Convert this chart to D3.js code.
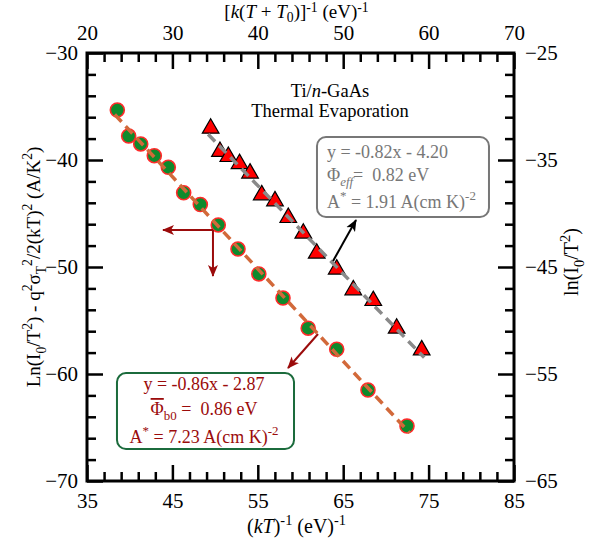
<!DOCTYPE html>
<html>
<head>
<meta charset="utf-8">
<script src="https://cdn.jsdelivr.net/npm/d3@7"></script>
<style>
  html, body { margin: 0; padding: 0; background: #fff; }
  svg text { font-family: "Liberation Serif", "DejaVu Serif", serif; white-space: pre; }
</style>
</head>
<body>
<div id="chart"></div>
<script>
'use strict';

// ── Data ────────────────────────────────────────────────────
// Green circles: (kT)^-1 on bottom axis, corrected ln on left axis
const circleX = [38.55, 39.88, 41.29, 42.88, 44.52, 46.32, 48.27, 50.37, 52.68, 55.12, 57.95, 60.90, 64.24, 67.90, 72.47];
const circleY = [-35.33, -37.76, -38.50, -39.60, -40.68, -43.06, -44.16, -46.07, -48.32, -50.65, -52.90, -55.72, -57.69, -61.50, -64.86];

// Red triangles: [k(T+T0)]^-1 on top axis, ln(I0/T^2) on right axis
const triX = [34.48, 35.57, 36.55, 37.86, 39.09, 40.46, 42.01, 43.57, 45.33, 46.90, 49.24, 51.18, 53.52, 56.26, 59.19];
const triY = [-32.04, -34.22, -34.69, -35.35, -36.24, -38.27, -38.83, -40.39, -41.85, -43.72, -45.21, -47.15, -48.15, -50.73, -52.76];

// Tick labels
const bottomTicks = [35, 45, 55, 65, 75, 85];
const topTicks    = [20, 30, 40, 50, 60, 70];
const leftTicks   = [-30, -40, -50, -60, -70];
const rightTicks  = [-25, -35, -45, -55, -65];

// ── Layout ─────────────────────────────────────────────────
const totalW = 596, totalH = 549;
const plot = { left: 87, right: 514, top: 53, bottom: 481 };
const FONT = 21;

const svg = d3.select('#chart').append('svg')
    .attr('width', totalW)
    .attr('height', totalH);

// ── Scales (two x, two y) ──────────────────────────────────
const xB = d3.scaleLinear().domain([35, 85]).range([plot.left, plot.right]);
const xT = d3.scaleLinear().domain([20, 70]).range([plot.left, plot.right]);
const yL = d3.scaleLinear().domain([-30, -70]).range([plot.top, plot.bottom]);
const yR = d3.scaleLinear().domain([-25, -65]).range([plot.top, plot.bottom]);

// minor ticks every 2 units, skipping the labelled ones
const minorOf = (dom, majors) => d3.range(d3.min(dom), d3.max(dom) + 0.001, 2)
    .filter(v => !majors.some(m => Math.abs(m - v) < 1e-6));

// ── Rich text helper (sub / sup / italic / overline) ───────
function rich(text, parts, supK = 0.42, subK = 0.3) {
    const fs = +text.attr('font-size');
    let shift = 0;
    parts.forEach(p => {
        const [str, kind] = Array.isArray(p) ? p : [p, ''];
        let target = 0, size = fs;
        if (kind.includes('sub')) { target = fs * subK;  size = fs * 0.72; }
        if (kind.includes('sup')) { target = -fs * supK; size = fs * 0.72; }
        const ts = text.append('tspan')
            .attr('dy', target - shift)
            .attr('font-size', size)
            .text(str);
        if (kind.includes('it'))   ts.attr('font-style', 'italic');
        if (kind.includes('over')) ts.attr('text-decoration', 'overline');
        shift = target;
    });
}

// ── Axes (inward ticks) ────────────────────────────────────
function styleAxis(g) {
    g.select('.domain').remove();
    g.selectAll('line').attr('stroke', '#000').attr('stroke-width', 2.5);
    g.selectAll('text').attr('font-size', FONT).attr('fill', '#000')
        .attr('font-family', '"Liberation Serif", serif');
}

const axes = [
    { gen: d3.axisBottom, s: xB, majors: bottomTicks, tr: `translate(0,${plot.bottom})`, pad: 12 },
    { gen: d3.axisTop,    s: xT, majors: topTicks,    tr: `translate(0,${plot.top})`,    pad: 13 },
    { gen: d3.axisLeft,   s: yL, majors: leftTicks,   tr: `translate(${plot.left},0)`,   pad: 9 },
    { gen: d3.axisRight,  s: yR, majors: rightTicks,  tr: `translate(${plot.right},0)`,  pad: 11 }
];

axes.forEach(a => {
    svg.append('g')
        .attr('transform', a.tr)
        .call(a.gen(a.s).tickValues(minorOf(a.s.domain(), a.majors))
            .tickSize(-9).tickSizeOuter(0).tickFormat(''))
        .call(styleAxis);
    svg.append('g')
        .attr('transform', a.tr)
        .call(a.gen(a.s).tickValues(a.majors)
            .tickSize(-16).tickSizeOuter(0).tickPadding(a.pad).tickFormat(d3.format('d')))
        .call(styleAxis);
});

// Frame
svg.append('rect')
    .attr('x', plot.left).attr('y', plot.top)
    .attr('width', plot.right - plot.left)
    .attr('height', plot.bottom - plot.top)
    .attr('fill', 'none')
    .attr('stroke', '#000')
    .attr('stroke-width', 3);

// ── Axis titles ────────────────────────────────────────────
rich(svg.append('text')
        .attr('x', (plot.left + plot.right) / 2 - 4).attr('y', 18)
        .attr('text-anchor', 'middle').attr('font-size', 19),
    ['[', ['k', 'it'], '(', ['T', 'it'], ' + ', ['T', 'it'], ['0', 'sub'], ')]', ['-1', 'sup'], ' (eV)', ['-1', 'sup']],
    0.3, 0.2);

rich(svg.append('text')
        .attr('x', (plot.left + plot.right) / 2 - 4).attr('y', 533)
        .attr('text-anchor', 'middle').attr('font-size', 20),
    ['(', ['kT', 'it'], ')', ['-1', 'sup'], ' (eV)', ['-1', 'sup']]);

rich(svg.append('text')
        .attr('transform', `translate(40,${(plot.top + plot.bottom) / 2}) rotate(-90)`)
        .attr('text-anchor', 'middle').attr('font-size', 19),
    ['Ln(I', ['0', 'sub'], '/T', ['2', 'sup'], ') - q', ['2', 'sup'], 'σ', ['T', 'sub'], ['2', 'sup'],
     '/2(kT)', ['2', 'sup'], ' (A/K', ['2', 'sup'], ')']);

rich(svg.append('text')
        .attr('transform', `translate(578,262) rotate(-90)`)
        .attr('text-anchor', 'middle').attr('font-size', 20),
    ['ln(I', ['0', 'sub'], '/T', ['2', 'sup'], ')']);

// ── Arrow markers ──────────────────────────────────────────
const defs = svg.append('defs');
[['head-red', '#9b0b0b'], ['head-black', '#000']].forEach(([id, col]) => {
    defs.append('marker')
        .attr('id', id)
        .attr('viewBox', '0 0 12 12')
        .attr('refX', 11).attr('refY', 6)
        .attr('markerWidth', 12).attr('markerHeight', 12)
        .attr('markerUnits', 'userSpaceOnUse')
        .attr('orient', 'auto')
        .append('path')
        .attr('d', 'M0,1 L12,6 L0,11 L3,6 Z')
        .attr('fill', col);
});

// ── Markers ────────────────────────────────────────────────
const circles = circleX.map((x, i) => ({ x, y: circleY[i] }));
const tris    = triX.map((x, i) => ({ x, y: triY[i] }));

svg.append('g').selectAll('circle')
    .data(circles)
    .join('circle')
    .attr('cx', d => xB(d.x))
    .attr('cy', d => yL(d.y))
    .attr('r', 7)
    .attr('fill', '#0e8a2c')
    .attr('stroke', '#ff2a2a')
    .attr('stroke-width', 1.6);

svg.append('g').selectAll('path')
    .data(tris)
    .join('path')
    .attr('transform', d => `translate(${xT(d.x)},${yR(d.y)})`)
    .attr('d', d3.symbol(d3.symbolTriangle, 120))
    .attr('fill', '#ff0000')
    .attr('stroke', '#000')
    .attr('stroke-width', 1.2);

// ── Least-squares fit lines (drawn over the markers) ───────
function fit(pts) {
    const mx = d3.mean(pts, d => d.x), my = d3.mean(pts, d => d.y);
    const m = d3.sum(pts, d => (d.x - mx) * (d.y - my)) / d3.sum(pts, d => (d.x - mx) ** 2);
    const b = my - m * mx;
    const [x0, x1] = d3.extent(pts, d => d.x);
    return [{ x: x0 - 0.3, y: m * (x0 - 0.3) + b }, { x: x1 + 0.3, y: m * (x1 + 0.3) + b }];
}

svg.append('path')
    .datum(fit(circles))
    .attr('d', d3.line().x(d => xB(d.x)).y(d => yL(d.y)))
    .attr('fill', 'none')
    .attr('stroke', '#d2693a')
    .attr('stroke-width', 3.5)
    .attr('stroke-dasharray', '10,6');

svg.append('path')
    .datum(fit(tris))
    .attr('d', d3.line().x(d => xT(d.x)).y(d => yR(d.y)))
    .attr('fill', 'none')
    .attr('stroke', '#8a8a8a')
    .attr('stroke-width', 3.5)
    .attr('stroke-dasharray', '10,6');

// ── Arrows ─────────────────────────────────────────────────
const RED = '#9b0b0b';
// bracket pointing left and down (circles -> left/bottom axes)
svg.append('line')
    .attr('x1', xB(49.75)).attr('y1', yL(-46.54))
    .attr('x2', xB(43.9)).attr('y2', yL(-46.54))
    .attr('stroke', RED).attr('stroke-width', 2)
    .attr('marker-end', 'url(#head-red)');
svg.append('line')
    .attr('x1', xB(49.75)).attr('y1', yL(-46.54))
    .attr('x2', xB(49.75)).attr('y2', yL(-50.84))
    .attr('stroke', RED).attr('stroke-width', 2)
    .attr('marker-end', 'url(#head-red)');
// circle fit -> green box
svg.append('line')
    .attr('x1', xB(62.05)).attr('y1', yL(-56.26))
    .attr('x2', xB(58.54)).attr('y2', yL(-59.44))
    .attr('stroke', RED).attr('stroke-width', 2)
    .attr('marker-end', 'url(#head-red)');
// triangle fit -> gray box
svg.append('line')
    .attr('x1', xT(48.81)).attr('y1', yR(-44.44))
    .attr('x2', xT(51.50)).attr('y2', yR(-40.61))
    .attr('stroke', '#000').attr('stroke-width', 2)
    .attr('marker-end', 'url(#head-black)');

// ── Annotation boxes ───────────────────────────────────────
const GRAY = '#777777';
svg.append('rect')
    .attr('x', xT(46.93)).attr('y', yR(-32.85))
    .attr('width', xT(67.07) - xT(46.93))
    .attr('height', yR(-40.33) - yR(-32.85))
    .attr('rx', 9)
    .attr('fill', '#fff')
    .attr('stroke', GRAY)
    .attr('stroke-width', 2);

const grayLines = [
    { y: 158, parts: ['y = -0.82x - 4.20'] },
    { y: 181, parts: ['Φ', ['eff', 'sub it'], '=  0.82 eV'] },
    { y: 208, parts: ['A', ['*', 'sup'], ' = 1.91 A(cm K)', ['-2', 'sup']] }
];
grayLines.forEach(l => {
    rich(svg.append('text')
            .attr('x', xT(48.1)).attr('y', l.y)
            .attr('font-size', 18).attr('fill', GRAY),
        l.parts);
});

svg.append('rect')
    .attr('x', xB(38.51)).attr('y', yL(-59.91))
    .attr('width', xB(59.24) - xB(38.51))
    .attr('height', yL(-67.01) - yL(-59.91))
    .attr('rx', 9)
    .attr('fill', '#fff')
    .attr('stroke', '#1b6b3c')
    .attr('stroke-width', 2);

const greenLines = [
    { y: 390, parts: ['y = -0.86x - 2.87'] },
    { y: 415, parts: [['Φ', 'over'], ['b0', 'sub'], ' =  0.86 eV'] },
    { y: 443, parts: ['A', ['*', 'sup'], ' = 7.23 A(cm K)', ['-2', 'sup']] }
];
greenLines.forEach(l => {
    rich(svg.append('text')
            .attr('x', xB(48.7)).attr('y', l.y)
            .attr('text-anchor', 'middle')
            .attr('font-size', 18).attr('fill', RED),
        l.parts);
});

// ── Sample label ───────────────────────────────────────────
rich(svg.append('text')
        .attr('x', 330).attr('y', 97)
        .attr('text-anchor', 'middle').attr('font-size', 18.5),
    ['Ti/', ['n', 'it'], '-GaAs']);
svg.append('text')
    .attr('x', 330).attr('y', 117)
    .attr('text-anchor', 'middle').attr('font-size', 18.5)
    .text('Thermal Evaporation');
</script>
</body>
</html>
